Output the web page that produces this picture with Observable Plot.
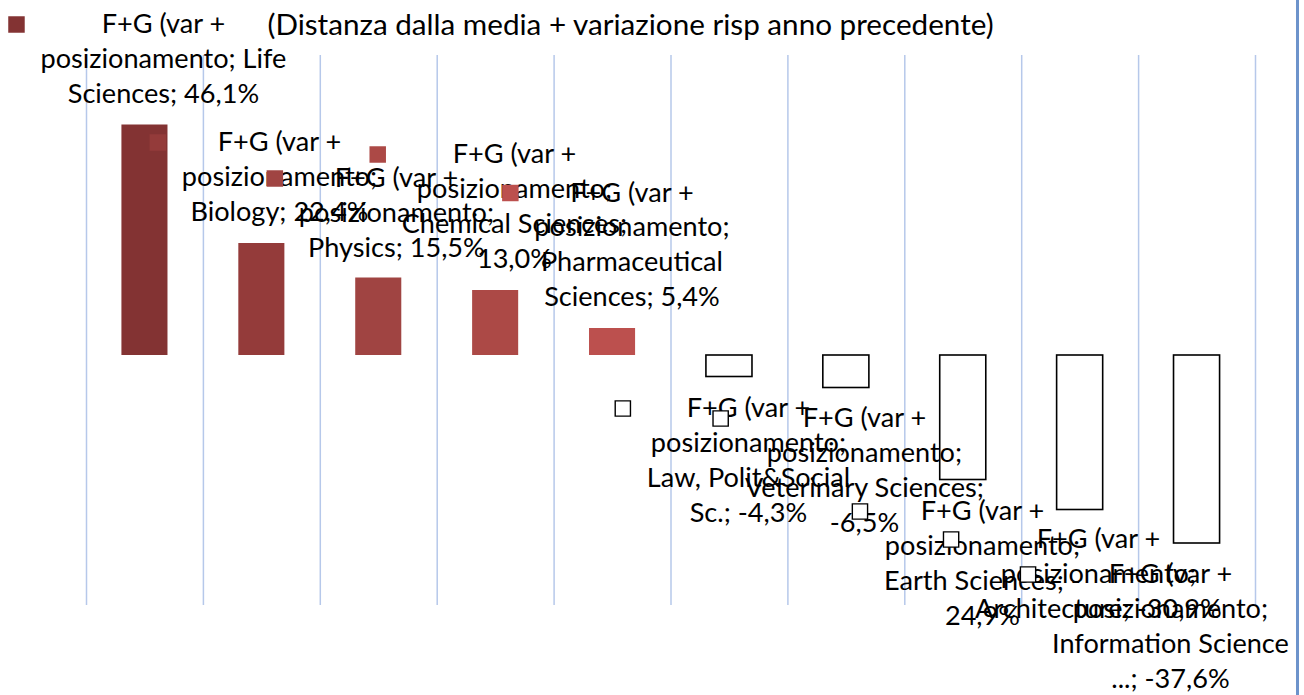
<!DOCTYPE html>
<html>
<head>
<meta charset="utf-8">
<script src="https://cdn.jsdelivr.net/npm/d3@7"></script>
<script src="https://cdn.jsdelivr.net/npm/@observablehq/plot@0.6"></script>
<style>
  html, body { margin: 0; padding: 0; background: #ffffff; overflow: hidden; }
  #wrap { position: relative; width: 1304px; height: 695px; }
  #border { position: absolute; left: 1296px; top: 0; width: 3px; height: 695px; background: #6d93cb; }
  svg { display: block; }
</style>
</head>
<body>
<div id="wrap"><div id="border"></div></div>
<script>
// ---- data ----
const categories = [
  "Life Sciences", "Biology", "Physics", "Chemical Sciences", "Pharmaceutical Sciences",
  "Law, Polit&Social Sc.", "Veterinary Sciences", "Earth Sciences", "Architecture", "Information Science ..."
];
const values = [46.1, 22.4, 15.5, 13.0, 5.4, -4.3, -6.5, -24.9, -30.9, -37.6];
const labelLines = [
  ["F+G (var +", "posizionamento; Life", "Sciences; 46,1%"],
  ["F+G (var +", "posizionamento;", "Biology; 22,4%"],
  ["F+G (var +", "posizionamento;", "Physics; 15,5%"],
  ["F+G (var +", "posizionamento;", "Chemical Sciences;", "13,0%"],
  ["F+G (var +", "posizionamento;", "Pharmaceutical", "Sciences; 5,4%"],
  ["F+G (var +", "posizionamento;", "Law, Polit&Social", "Sc.; -4,3%"],
  ["F+G (var +", "posizionamento;", "Veterinary Sciences;", "-6,5%"],
  ["F+G (var +", "posizionamento;", "Earth Sciences; -", "24,9%"],
  ["F+G (var +", "posizionamento;", "Architecture; -30,9%"],
  ["F+G (var +", "posizionamento;", "Information Science", "...; -37,6%"]
];
const legendText = "(Distanza dalla media + variazione risp anno precedente)";
const positiveColors = ["#833333", "#943b3a", "#a04442", "#ac4946", "#bc504e"];

// ---- label placement (pixel offsets from the bar end) ----
const labelDx = [18.5, 17.6, 17.7, 18.8, 19.4, 19, 18.1, 19.2, 18.3, -26.6];
const labelDy = [-100.5, -101, -99.5, -136, -135.5, 31.5, 30.5, 31.5, 29.5, 31];
const lineStep = 34.8;
const keyGap = 24;

// ---- font sizing ----
const FONT = "Lato";
const ctx = document.createElement("canvas").getContext("2d");
function measure(s, fs) { ctx.font = `${fs}px ${FONT}`; return ctx.measureText(s).width; }
const fontSize = 28 * 246 / measure("posizionamento; Life", 28);
const legendFontSize = 28 * 727 / measure(legendText, 28);

const W = 1304, H = 695;
const mL = 86, mR = 49, mT = 55, mB = 90;
const step = (W - mL - mR) / categories.length;

const data = categories.map((cat, i) => {
  const neg = values[i] < 0;
  const maxW = d3.max(labelLines[i], s => measure(s, fontSize));
  return {
    cat, value: values[i], neg,
    fill: neg ? "#ffffff" : positiveColors[i],
    lines: labelLines[i],
    dx: labelDx[i], dy: labelDy[i],
    keyDx: labelDx[i] - (maxW / 2 + keyGap)
  };
});

const labelMarks = [];
for (const d of data) {
  labelMarks.push(Plot.dot([d], {
    x: "cat", y: "value", dx: d.keyDx, dy: d.dy,
    symbol: "square", r: d.neg ? 8.6 : 9.3,
    fill: d.fill, stroke: d.neg ? "#000000" : "none", strokeWidth: 1.4
  }));
  d.lines.forEach((line, j) => {
    labelMarks.push(Plot.text([d], {
      x: "cat", y: "value", text: () => line,
      dx: d.dx, dy: d.dy + j * lineStep,
      textAnchor: "middle", lineAnchor: "middle", fontSize, fill: "#000000"
    }));
  });
}

const chart = Plot.plot({
  width: W, height: H,
  marginTop: mT, marginBottom: mB, marginLeft: mL, marginRight: mR,
  x: {type: "band", domain: categories, paddingInner: 0.606, paddingOuter: 0.303, round: false, axis: null},
  y: {domain: [-50, 60], axis: null},
  style: {fontFamily: FONT, background: "transparent"},
  marks: [
    Plot.ruleX(categories, {x: d => d, dx: -step / 2, stroke: "#b6c8ea", strokeWidth: 1.5}),
    Plot.ruleX([categories[categories.length - 1]], {x: d => d, dx: step / 2, stroke: "#b6c8ea", strokeWidth: 1.5}),
    Plot.barY(data, {
      x: "cat", y: "value",
      fill: d => d.fill,
      stroke: d => d.neg ? "#000000" : "none",
      strokeWidth: 1.6
    }),
    ...labelMarks,
    Plot.text([legendText], {
      frameAnchor: "top-left", text: d => d, dx: 267 - mL, dy: 25 - mT,
      textAnchor: "start", lineAnchor: "middle", fontSize: legendFontSize, fill: "#000000"
    })
  ]
});
document.getElementById("wrap").prepend(chart);
</script>
</body>
</html>
